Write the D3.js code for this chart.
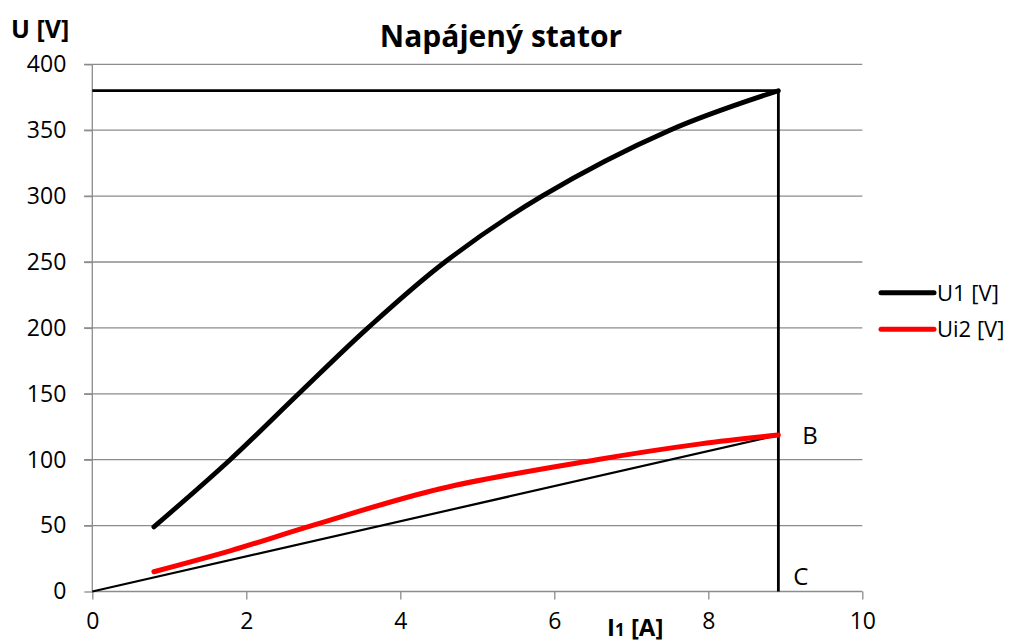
<!DOCTYPE html>
<html>
<head>
<meta charset="utf-8">
<script src="https://cdn.jsdelivr.net/npm/d3@7"></script>
<style>
  body { margin: 0; background: #fff; }
  svg { display: block; font-family: "Open Sans", "Noto Sans", sans-serif; }
</style>
</head>
<body>
<svg id="chart" width="1015" height="644"></svg>
<script>
// ---- data ----
const title = "Napájený stator";
const yTitle = "U [V]";
const xTitleMain = "I";
const xTitleSub = "1";
const xTitleRest = " [A]";
const xTicks = [0, 2, 4, 6, 8, 10];
const yTicks = [0, 50, 100, 150, 200, 250, 300, 350, 400];

const u1I = [0.8, 1.79, 2.68, 3.58, 4.58, 5.84, 7.5, 8.91];
const u1U = [49, 100, 150, 200, 250, 300, 350, 380];

const ui2I = [0.8, 1.8, 2.85, 4.52, 6.55, 7.9, 8.91];
const ui2U = [15, 31, 50, 78, 100, 112, 118.7];

// construction lines
const frameI = [0, 8.91, 8.91];
const frameU = [380, 380, 0];
const chordI = [0, 8.91];
const chordU = [0, 118.7];

const seriesNames = ["U1 [V]", "Ui2 [V]"];
const seriesColors = ["#000000", "#ff0000"];
const markB = "B";
const markC = "C";

// ---- layout ----
const svg = d3.select("#chart");
const x = d3.scaleLinear().domain([0, 10]).range([92.3, 862.3]);
const y = d3.scaleLinear().domain([0, 400]).range([591.5, 64.3]);
const gridColor = "#8c8c8c";

// gridlines
svg.append("g").selectAll("line").data(yTicks.filter(d => d > 0)).join("line")
  .attr("x1", 84).attr("x2", x(10))
  .attr("y1", d => y(d)).attr("y2", d => y(d))
  .attr("stroke", gridColor).attr("stroke-width", 1.3);

// y axis
const yAxis = svg.append("g").attr("transform", `translate(${x(0)},0)`)
  .call(d3.axisLeft(y).tickValues(yTicks).tickSize(8).tickPadding(18).tickFormat(d3.format("d")));
yAxis.select(".domain").attr("stroke", gridColor).attr("stroke-width", 1.3).attr("d", `M0,${y(400)}V${y(0)}`);
yAxis.selectAll(".tick line").attr("stroke", gridColor).attr("stroke-width", 1.3);
yAxis.selectAll(".tick text").attr("font-size", 23).attr("fill", "#000").attr("font-family", "Open Sans");

// x axis
const xAxis = svg.append("g").attr("transform", `translate(0,${y(0)})`)
  .call(d3.axisBottom(x).tickValues(xTicks).tickSize(8).tickPadding(13).tickFormat(d3.format("d")));
xAxis.select(".domain").attr("stroke", gridColor).attr("stroke-width", 1.3).attr("d", `M${x(0)},0H${x(10)}`);
xAxis.selectAll(".tick line").attr("stroke", gridColor).attr("stroke-width", 1.3);
xAxis.selectAll(".tick text").attr("font-size", 23).attr("fill", "#000").attr("font-family", "Open Sans");

// construction lines
const lin = d3.line().x(d => x(d[0])).y(d => y(d[1]));
svg.append("path").datum(d3.zip(chordI, chordU)).attr("d", lin)
  .attr("fill", "none").attr("stroke", "#000").attr("stroke-width", 2.2);
svg.append("path").datum(d3.zip(frameI, frameU)).attr("d", lin)
  .attr("fill", "none").attr("stroke", "#000").attr("stroke-width", 2.8);

// series
const smooth = d3.line().x(d => x(d[0])).y(d => y(d[1])).curve(d3.curveCatmullRom.alpha(0.5));
svg.append("path").datum(d3.zip(ui2I, ui2U)).attr("d", smooth)
  .attr("fill", "none").attr("stroke", seriesColors[1]).attr("stroke-width", 5).attr("stroke-linecap", "round");
svg.append("path").datum(d3.zip(u1I, u1U)).attr("d", smooth)
  .attr("fill", "none").attr("stroke", seriesColors[0]).attr("stroke-width", 4.8).attr("stroke-linecap", "round");

// point labels
svg.append("text").attr("x", x(8.91) + 24).attr("y", y(118.7) + 9).attr("font-size", 24).text(markB);
svg.append("text").attr("x", x(8.91) + 15).attr("y", y(0) - 7).attr("font-size", 24).text(markC);

// title
svg.append("text").attr("x", 501).attr("y", 47).attr("text-anchor", "middle")
  .attr("font-size", 30).attr("font-weight", "bold").text(title);
svg.append("text").attr("x", 11).attr("y", 38).attr("font-size", 25).attr("font-weight", "bold").text(yTitle);
const xt = svg.append("text").attr("x", 607).attr("y", 636).attr("font-size", 24).attr("font-weight", "bold");
xt.append("tspan").text(xTitleMain);
xt.append("tspan").attr("font-size", 17).text(xTitleSub);
xt.append("tspan").text(xTitleRest);

// legend
const lg = svg.append("g");
seriesNames.forEach((name, i) => {
  const ly = 292.7 + i * 36.6;
  lg.append("line").attr("x1", 881).attr("x2", 934).attr("y1", ly).attr("y2", ly)
    .attr("stroke", seriesColors[i]).attr("stroke-width", 5).attr("stroke-linecap", "round");
  lg.append("text").attr("x", 937).attr("y", ly + 8).attr("font-size", 22).text(name);
});
</script>
</body>
</html>
